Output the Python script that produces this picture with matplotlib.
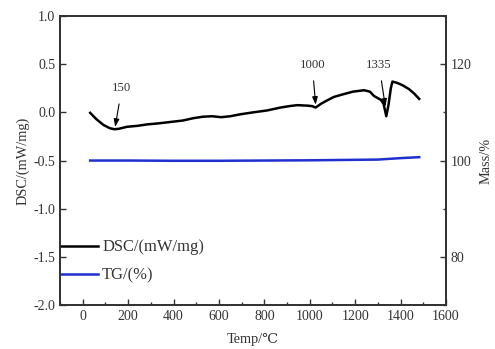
import matplotlib
matplotlib.use("Agg")
import matplotlib.pyplot as plt
from matplotlib.ticker import MultipleLocator, FormatStrFormatter

# DSC curve (temperature in degC, heat flow in mW/mg)
dsc_temp = [33, 60, 91, 120, 140, 160, 194, 240, 283, 330, 385, 440, 488, 530,
            570, 610, 650, 694, 750, 812, 871, 910, 945, 989, 1010, 1026, 1050,
            1077, 1106, 1150, 1190, 1239, 1265, 1283, 1313, 1325, 1337, 1347,
            1357, 1364, 1386, 1410, 1438, 1460, 1482]
dsc_val = [-0.005, -0.07, -0.13, -0.165, -0.175, -0.17, -0.15, -0.14, -0.125,
           -0.115, -0.10, -0.085, -0.06, -0.045, -0.04, -0.05, -0.04, -0.02,
           0.0, 0.02, 0.05, 0.065, 0.075, 0.07, 0.065, 0.05, 0.09, 0.125, 0.16,
           0.19, 0.215, 0.23, 0.215, 0.17, 0.13, 0.09, -0.04, 0.08, 0.25, 0.32,
           0.305, 0.28, 0.24, 0.195, 0.14]

# TG curve (mass %)
tg_temp = [33, 200, 400, 600, 800, 1000, 1200, 1300, 1400, 1482]
tg_val = [100.0, 100.0, 99.95, 99.95, 100.0, 100.05, 100.15, 100.2, 100.5, 100.7]

# peak annotations: label, arrow tip (T, DSC), text position (T, DSC)
peak_labels = ["150", "1000", "1335"]
peak_tips = [(143, -0.15), (1026, 0.08), (1333, 0.06)]
peak_text = [(172, 0.25), (1011, 0.49), (1305, 0.49)]

plt.rcParams["font.family"] = ["Liberation Serif", "DejaVu Serif"]
plt.rcParams["axes.unicode_minus"] = False
INK = "#333333"

fig = plt.figure(figsize=(4.95, 3.49), dpi=100)
ax = fig.add_axes([0.1212, 0.126, 0.7798, 0.828])
ax2 = ax.twinx()

l1, = ax.plot(dsc_temp, dsc_val, color="black", lw=1.8, label="DSC/(mW/mg)")
l2, = ax2.plot(tg_temp, tg_val, color="#1f2fd0", lw=1.8, label="TG/(%)")

ax.set_xlim(-100, 1600)
ax.set_ylim(-2.0, 1.0)
ax2.set_ylim(70, 130)

ax.xaxis.set_major_locator(MultipleLocator(200))
ax.xaxis.set_minor_locator(MultipleLocator(100))
ax.yaxis.set_major_locator(MultipleLocator(0.5))
ax.yaxis.set_major_formatter(FormatStrFormatter("%.1f"))
ax2.yaxis.set_major_locator(MultipleLocator(20))
ax2.yaxis.set_minor_locator(MultipleLocator(10))

ax.tick_params(axis="both", which="both", direction="in", colors=INK,
               labelsize=10, top=False, right=False)
ax.tick_params(which="major", length=4, width=1)
ax.tick_params(which="minor", length=2.5, width=1)
ax.tick_params(axis="y", which="minor", left=False)
ax2.tick_params(axis="y", which="both", direction="in", colors=INK, labelsize=10)
ax2.tick_params(which="major", length=4, width=1)
ax2.tick_params(which="minor", length=2.5, width=1)

for a in (ax, ax2):
    for s in a.spines.values():
        s.set_color(INK)
        s.set_linewidth(1.3)

ax.set_xlabel("Temp/℃", fontsize=10.3, color=INK, labelpad=7)
ax.set_ylabel("DSC/(mW/mg)", fontsize=10.3, color=INK, labelpad=3)
ax2.set_ylabel("Mass/%", fontsize=10.3, color=INK, labelpad=6)

for lab, tip, txt in zip(peak_labels, peak_tips, peak_text):
    ax.annotate(lab, xy=tip, xytext=txt, ha="center", va="center",
                fontsize=9.2, color=INK,
                arrowprops=dict(arrowstyle="-|>,head_length=0.5,head_width=0.18",
                                color="black", lw=0.8, shrinkA=5, shrinkB=0))

ax.legend([l1, l2], ["DSC/(mW/mg)", "TG/(%)"], loc="center left",
          bbox_to_anchor=(0.0, 0.15), frameon=False, fontsize=11.9,
          handlelength=2.3, handletextpad=0.25, borderpad=0, borderaxespad=0,
          labelspacing=0.75, labelcolor=INK)

fig.savefig("out.png", dpi=100)
